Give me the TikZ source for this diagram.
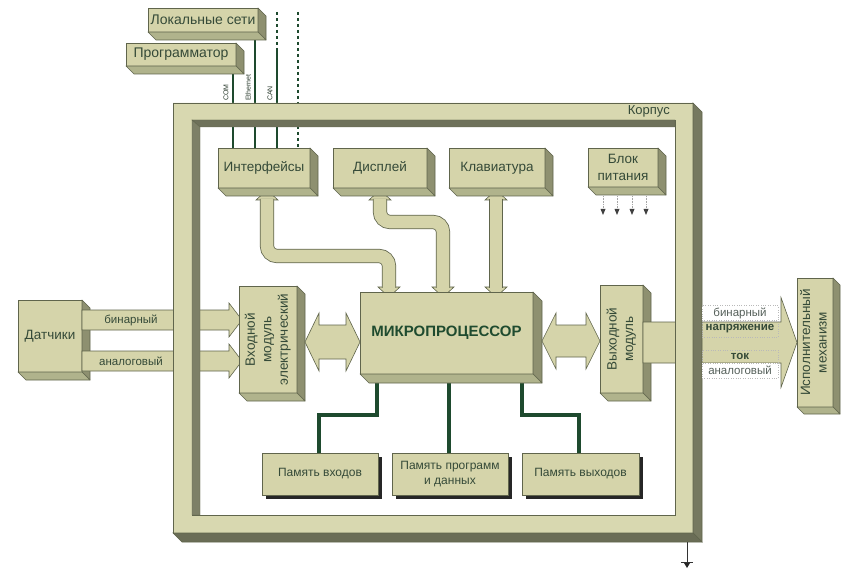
\documentclass[tikz,border=0pt]{standalone}
\usepackage{fontspec}
\setmainfont{Liberation Sans}
\usetikzlibrary{calc,shadows}
\definecolor{boxfill}{HTML}{D5D4AA}
\definecolor{sidefill}{HTML}{8E9070}
\definecolor{botfill}{HTML}{B0B38C}
\definecolor{edge}{HTML}{60654C}
\definecolor{txt}{HTML}{354A38}
\definecolor{mptxt}{HTML}{1F4B2F}
\definecolor{wirec}{HTML}{1E4A2E}
\definecolor{bandlight}{HTML}{D8D8B0}
\definecolor{banddarkA}{HTML}{6E715A}
\definecolor{banddarkB}{HTML}{7D8067}
\definecolor{framedark}{HTML}{767960}
\definecolor{greytxt}{HTML}{55605A}
\newcommand\extr[2]{%
  \filldraw[fill=sidefill, draw=edge, line width=0.6pt, line join=round]
    (#1.north east) -- ++(#2,#2) -- ($(#1.south east)+(#2,#2)$) -- (#1.south east) -- cycle;
  \filldraw[fill=botfill, draw=edge, line width=0.6pt, line join=round]
    (#1.south west) -- (#1.south east) -- ($(#1.south east)+(#2,#2)$) -- ($(#1.south west)+(#2,#2)$) -- cycle;}
\newcommand\tdbox[8][]{%
  \node[box,#1, minimum width={#5-#3}, minimum height={#6-#4}] (#2) at ({(#3+#5)/2},{(#4+#6)/2}) {#7};
  \extr{#2}{#8}}
\newcommand\dharrow[6]{% xL xR c s h L
  \filldraw[bigarrow] (#1,#3) -- ({#1+#6},{#3-#5}) -- ({#1+#6},{#3-#4}) -- ({#2-#6},{#3-#4}) -- ({#2-#6},{#3-#5}) -- (#2,#3) -- ({#2-#6},{#3+#5}) -- ({#2-#6},{#3+#4}) -- ({#1+#6},{#3+#4}) -- ({#1+#6},{#3+#5}) -- cycle;}
\newcommand\sharrow[6]{% x0 xtip c s h L
  \filldraw[bigarrow] (#1,{#3-#4}) -- ({#2-#6},{#3-#4}) -- ({#2-#6},{#3-#5}) -- (#2,#3) -- ({#2-#6},{#3+#5}) -- ({#2-#6},{#3+#4}) -- (#1,{#3+#4}) -- cycle;}
\newcommand\busarrow[3]{% path, top head x, bottom head x
  \filldraw[bigarrow] ({#2-11},200) -- ({#2+11},200) -- (#2,190) -- cycle;
  \filldraw[bigarrow] ({#3-11},287) -- ({#3+11},287) -- (#3,297) -- cycle;
  \draw[edge, line width=14.2pt, rounded corners=10pt] #1;
  \draw[boxfill, line width=12.6pt, rounded corners=10pt] #1;}
\newcommand\rtext[1]{\rotatebox{90}{\begin{tabular}{@{}c@{}}#1\end{tabular}}}
\begin{document}
\begin{tikzpicture}[x=1pt, y=-1pt,
  box/.style={draw=edge, fill=boxfill, line width=0.6pt, inner sep=0pt, outer sep=0pt,
    text=txt, font=\fontsize{13.5}{16.5}\selectfont, align=center},
  bigfont/.style={font=\fontsize{14}{16}\selectfont},
  mpstyle/.style={font=\bfseries\fontsize{15}{17}\selectfont, text=mptxt},
  membox/.style={box, font=\fontsize{12}{14.5}\selectfont,
    drop shadow={shadow xshift=4pt, shadow yshift=-4pt, fill=black!85, opacity=1}},
  wire/.style={draw=wirec, line width=2.8pt},
  memwire/.style={draw=wirec, line width=3.3pt, line join=miter},
  dwire/.style={wire, dash pattern=on 3pt off 3pt},
  bigarrow/.style={fill=boxfill, draw=edge, line width=0.6pt, line join=miter},
  lbl/.style={text=txt, font=\fontsize{11.5}{13}\selectfont, inner sep=0pt},
  tag/.style={lbl, text=greytxt, draw=gray!55, dotted, fill=white, minimum width=76pt, minimum height=15pt},
  tagb/.style={tag, fill=none, text=txt, font=\bfseries\fontsize{11.5}{13}\selectfont},
  tinylbl/.style={text=txt!80!black, font=\fontsize{7}{8}\selectfont, inner sep=0pt, rotate=90, anchor=west},
  gnd/.style={draw=gray!40!black, line width=0.8pt}
]
\useasboundingbox (0,0) rectangle (843,569);
\fill[white] (0,0) rectangle (843,569);

% sensors and input arrows
\tdbox{sens}{18}{300}{82}{372}{Датчики}{8}
\sharrow{82}{242}{320}{10}{17}{13}
\sharrow{82}{242}{361}{10}{17}{13}
\node[lbl] (lb1) at (131,320) {бинарный};
\node[lbl] (lb2) at (131,361) {аналоговый};

% modules
\tdbox{inmod}{239}{286}{297}{393}{\rtext{Входной\\модуль\\электрический}}{8}
\tdbox{outmod}{600}{285}{643}{393}{\rtext{Выходной\\модуль}}{8}

% output arrow
\sharrow{643}{797}{342.5}{20.5}{45}{16}
\tdbox{act}{797}{278}{833}{407}{\rtext{Исполнительный\\механизм}}{7}

% wires to the interface block
\coordinate (ifacetop) at (264,148);
\draw[wire] (233,66) -- (233,0 |- ifacetop);
\draw[wire] (255,32) -- (255,0 |- ifacetop);
\draw[dwire] (277,12) -- (277,50);
\draw[wire] (277,50) -- (277,0 |- ifacetop);
\draw[dwire] (298,12) -- (298,0 |- ifacetop);
\tdbox[bigfont]{lan}{148}{8}{258}{32}{Локальные сети}{8}
\tdbox[bigfont]{prog}{126}{43}{236}{66}{Программатор}{8}
\node[tinylbl] (lcom) at (226,101) {COM};
\node[tinylbl] (leth) at (248,101) {Ethernet};
\node[tinylbl] (lcan) at (270,101) {CAN};

% frame (Korpus)
\filldraw[fill=bandlight, draw=edge, line width=0.6pt, even odd rule]
  (173,103) rectangle (693,533) (192,120) rectangle (675,515);
\filldraw[fill=banddarkA, draw=edge, line width=0.4pt] (192,120) -- (675,120) -- (675,127) -- (200,127) -- cycle;
\filldraw[fill=banddarkB, draw=edge, line width=0.4pt] (192,120) -- (200,127) -- (200,515) -- (192,515) -- cycle;
\filldraw[fill=framedark, draw=edge, line width=0.6pt] (693,103) -- (702,112) -- (702,542) -- (693,533) -- cycle;
\filldraw[fill=framedark!90!black, draw=edge, line width=0.6pt] (173,533) -- (693,533) -- (702,542) -- (182,542) -- cycle;
\node[lbl, font=\fontsize{13}{15}\selectfont, anchor=east] (korp) at (670,111) {Корпус};

% bus arrows
\busarrow{(267,199) -- (267,256) -- (389,256) -- (389,288)}{267}{389}
\busarrow{(380,199) -- (380,222) -- (443,222) -- (443,288)}{380}{443}
\busarrow{(496,199) -- (496,288)}{496}{496}

% top boxes inside
\tdbox{iface}{218}{148}{310}{188}{Интерфейсы}{8}
\tdbox{disp}{333}{148}{427}{188}{Дисплей}{8}
\tdbox{kbd}{449}{148}{545}{188}{Клавиатура}{8}
\tdbox{psu}{588}{148}{658}{187}{Блок\\питания}{8}
\foreach \x in {603,617,632,646} {
  \draw[densely dotted, gray!70, line width=0.6pt] (\x,196) -- (\x,210);
  \fill[black!75] ({\x-2.5},209) -- ({\x+2.5},209) -- (\x,215) -- cycle;
}

% memory wires
\draw[memwire] (377,380) -- (377,415) -- (319,415) -- (319,455);
\draw[memwire] (449,380) -- (449,455);
\draw[memwire] (522,380) -- (522,415) -- (579,415) -- (579,455);

% microprocessor
\tdbox[mpstyle]{mp}{360}{292}{533}{374}{МИКРОПРОЦЕССОР}{9}

% side double arrows
\dharrow{305}{360}{342}{17}{29}{14}
\dharrow{542}{600}{341}{16}{28}{14}

% memory boxes
\node[membox, minimum width=116pt, minimum height=42pt] (memin) at (320,474) {Память входов};
\node[membox, minimum width=116pt, minimum height=42pt] (memprog) at (450,474) {Память программ\\и данных};
\node[membox, minimum width=117pt, minimum height=42pt] (memout) at (580.5,474) {Память выходов};

% output labels
\node[tag] (tb) at (740,313) {бинарный};
\node[tagb, minimum height=16pt] (tn) at (740,329) {напряжение};
\node[tagb, minimum height=13pt] (tt) at (740,356.5) {ток};
\node[tag] (ta) at (740,370.5) {аналоговый};

% ground
\coordinate (gtop) at (687,542);
\coordinate (gbot) at (687,562);
\draw[gnd] (gtop) -- (gbot);
\draw[gnd] (681,562) -- (693,562);
\fill[gray!30!black] (684,563) -- (690,563) -- (687,568) -- cycle;
\end{tikzpicture}
\end{document}
